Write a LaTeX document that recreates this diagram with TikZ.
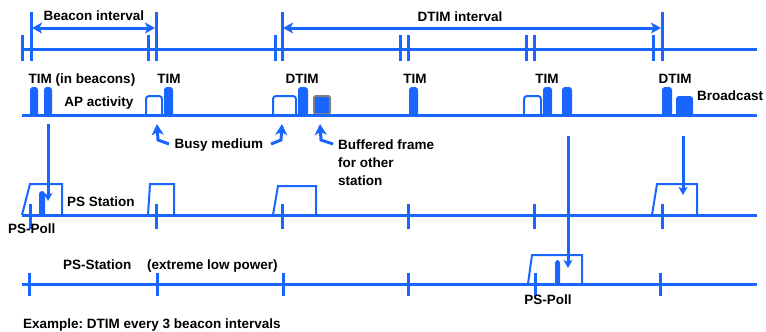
\documentclass[tikz,border=0pt]{standalone}
\usepackage{fontspec}
\setmainfont{Liberation Sans}
\usetikzlibrary{arrows.meta}
\definecolor{lb}{RGB}{24,102,255}
\frenchspacing
\begin{document}
\begin{tikzpicture}[x=1pt,y=-1pt,
  ln/.style={draw=lb,line width=3pt},
  tk/.style={draw=lb,line width=3pt},
  busybox/.style={draw=lb,line width=2pt,rounded corners=3pt},
  trap/.style={draw=lb,line width=2pt},
  arr/.style={draw=lb,line width=3pt,-{Stealth[length=11pt,width=12pt,inset=3pt]}},
  darr/.style={draw=lb,line width=3pt,{Stealth[length=10pt,width=11pt,inset=2.5pt]}-{Stealth[length=10pt,width=11pt,inset=2.5pt]}},
  varr/.style={draw=lb,line width=3pt,-{Stealth[length=8pt,width=9pt,inset=2pt]}},
  lbl/.style={font=\bfseries\fontsize{13.5}{15}\selectfont,inner sep=0pt,text=black},
  blkfill/.style={fill=lb,rounded corners=3pt}
]
\useasboundingbox (0,0) rectangle (766,332);

% ---------- top (beacon) timeline ----------
\coordinate (t0) at (22,49); \coordinate (t1) at (757,49);
\draw[ln] (t0) -- (t1);
\foreach \x in {22,31,148,156,275,282,400,408,526,534,653,662}
  \draw[tk] (\x,35) -- (\x,61);
\foreach \x in {31,156,282,662}
  \draw[tk] (\x,12) -- (\x,61);
\coordinate (bi0) at (32,28); \coordinate (bi1) at (155,28);
\draw[darr] (bi0) -- (bi1);
\coordinate (di0) at (283,28); \coordinate (di1) at (661,28);
\draw[darr] (di0) -- (di1);
\node[lbl,anchor=base] (lbi) at (94,20) {Beacon interval};
\node[lbl,anchor=base] (ldi) at (460,21) {DTIM interval};

% ---------- AP activity ----------
\fill[blkfill] (30,87) rectangle (38,116.5);
\fill[blkfill] (44,87) rectangle (52,116.5);
\fill[blkfill] (164,87) rectangle (173,116.5);
\fill[blkfill] (298,87) rectangle (308,116.5);
\fill[blkfill] (409,87) rectangle (418,116.5);
\fill[blkfill] (543,87) rectangle (552,116.5);
\fill[blkfill] (562,87) rectangle (572,116.5);
\fill[blkfill] (662,87) rectangle (672,116.5);
\fill[blkfill] (676,96) rectangle (693,116.5);
\draw[busybox] (146,115) -- (146,96) -- (162,96) -- (162,115);
\draw[busybox] (273,115) -- (273,96) -- (296,96) -- (296,115);
\draw[busybox] (524,115) -- (524,96) -- (541,96) -- (541,115);
\filldraw[fill=lb,draw=gray,line width=2pt,rounded corners=2pt] (314,96) rectangle (330,114);
\coordinate (a0) at (22,115); \coordinate (a1) at (757,115);
\draw[ln] (a0) -- (a1);

\node[lbl,anchor=base] (ltim0) at (82,83) {TIM (in beacons)};
\node[lbl,anchor=base] (ltim1) at (169,83) {TIM};
\node[lbl,anchor=base] (ldtim1) at (302,83) {DTIM};
\node[lbl,anchor=base] (ltim2) at (415,83) {TIM};
\node[lbl,anchor=base] (ltim3) at (547,83) {TIM};
\node[lbl,anchor=base] (ldtim2) at (675,83) {DTIM};
\node[lbl,anchor=base] (lap) at (99,106) {AP activity};
\node[lbl,anchor=base west] (lbc) at (697,100) {Broadcast};

\node[lbl,anchor=base] (lbusy) at (219,148) {Busy medium};
\node[lbl,anchor=base west] (lbuf1) at (338,149) {Buffered frame};
\node[lbl,anchor=base west] (lbuf2) at (338,167) {for other};
\node[lbl,anchor=base west] (lbuf3) at (338,185) {station};
\coordinate (h1) at (157,124); \coordinate (k1) at (158,140); \coordinate (s1) at (169,144);
\draw[arr] (s1) -- (k1) -- (h1);
\coordinate (h2) at (282,124); \coordinate (k2) at (281,140); \coordinate (s2) at (271,144);
\draw[arr] (s2) -- (k2) -- (h2);
\coordinate (h3) at (320,124); \coordinate (k3) at (321,140); \coordinate (s3) at (333,144);
\draw[arr] (s3) -- (k3) -- (h3);

% ---------- PS Station ----------
\draw[trap] (22,215) -- (30,184) -- (62,184) -- (62,215);
\draw[trap] (148,215) -- (150,184) -- (174,184) -- (174,215);
\draw[trap] (273,215) -- (278,186) -- (316,186) -- (316,215);
\draw[trap] (652,215) -- (657,184) -- (697,184) -- (697,215);
\fill[blkfill] (39,191) rectangle (45,216.5);
\coordinate (p0) at (22,215); \coordinate (p1) at (757,215);
\draw[ln] (p0) -- (p1);
\foreach \x in {30,156,282,408,534,662}
  \draw[tk] (\x,204) -- (\x,229);
\node[lbl,anchor=base west] (lps) at (67,206) {PS Station};
\node[lbl,anchor=base west] (lpoll1) at (8,233) {PS-Poll};
\coordinate (v1s) at (48,124); \coordinate (v1e) at (48,201);
\draw[varr] (v1s) -- (v1e);
\coordinate (v2s) at (683,136); \coordinate (v2e) at (683,195);
\draw[varr] (v2s) -- (v2e);

% ---------- PS-Station (extreme low power) ----------
\draw[trap] (528,284) -- (532,255) -- (582,255) -- (582,284);
\fill[blkfill] (555,260) rectangle (560,285.5);
\coordinate (q0) at (22,284); \coordinate (q1) at (757,284);
\draw[ln] (q0) -- (q1);
\foreach \x in {29,157,283,408,535,660}
  \draw[tk] (\x,273) -- (\x,296);
\coordinate (v3s) at (568,136); \coordinate (v3e) at (568,268);
\draw[varr] (v3s) -- (v3e);
\node[lbl,anchor=base west] (lps2) at (63,269) {PS-Station};
\node[lbl,anchor=base west] (lelp) at (147,269) {(extreme low power)};
\node[lbl,anchor=base] (lpoll2) at (548,304) {PS-Poll};
\node[lbl,anchor=base west] (lex) at (23,328) {Example: DTIM every 3 beacon intervals};
\end{tikzpicture}
\end{document}
